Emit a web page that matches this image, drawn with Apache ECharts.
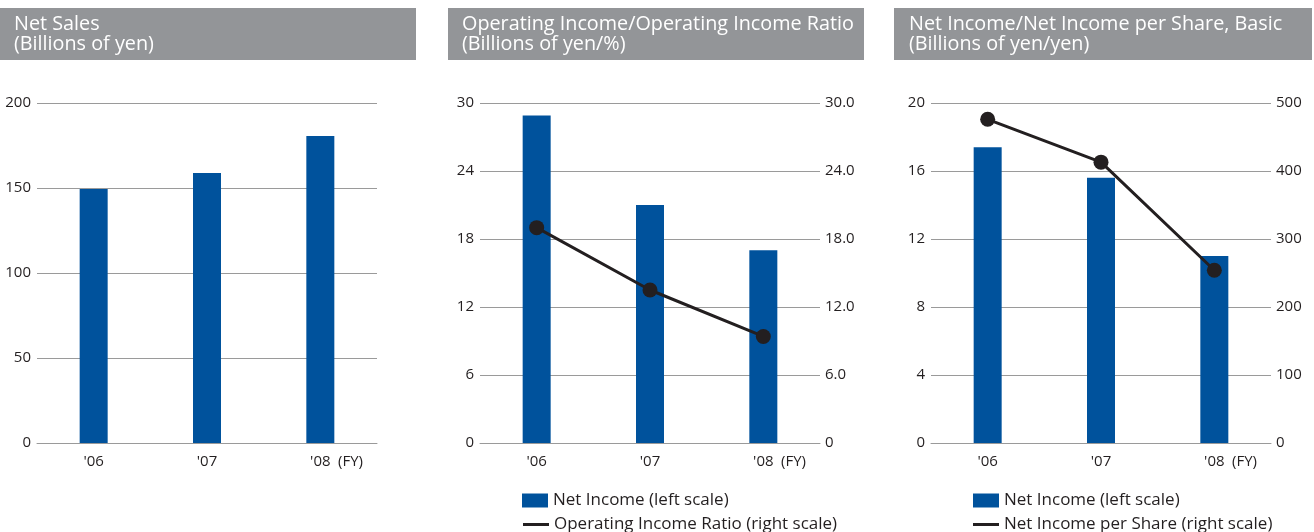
<!DOCTYPE html>
<html>
<head>
<meta charset="utf-8">
<script src="https://cdn.jsdelivr.net/npm/echarts@6/dist/echarts.min.js"></script>
<style>
  html, body { margin: 0; padding: 0; background: #fff; }
  #chart { width: 1314px; height: 532px; }
</style>
</head>
<body>
<div id="chart"></div>
<script>
// Fiscal years shown on every panel
const years = ["'06", "'07", "'08"];

// Net Sales (billions of yen)
const netSales = [149.4, 158.8, 180.6];

// Operating income (billions of yen) and operating income ratio (%)
const operatingIncome = [28.9, 21.0, 17.0];
const operatingIncomeRatio = [19.0, 13.5, 9.4];

// Net income (billions of yen) and net income per share, basic (yen)
const netIncome = [17.4, 15.6, 11.0];
const netIncomePerShare = [476, 413, 254];

// Panel headings
const titles = [
  ['Net Sales', '(Billions of yen)'],
  ['Operating Income/Operating Income Ratio', '(Billions of yen/%)'],
  ['Net Income/Net Income per Share, Basic', '(Billions of yen/yen)']
];

// Legend labels
const barLegendName = 'Net Income (left scale)';
const ratioLegendName = 'Operating Income Ratio (right scale)';
const epsLegendName = 'Net Income per Share (right scale)';

const FONT = "'Open Sans', 'Noto Sans', sans-serif";
const BAR = '#00529c';
const INK = '#231f20';
const GRID = '#9a9a9a';

const gridTop = 103, gridH = 340, gridW = 340;
const gridLefts = [37, 480, 931];
const bandX = [[0, 416], [448, 864], [894, 1312]];
const titleX = [14, 462, 909];

const chart = echarts.init(document.getElementById('chart'), null, { renderer: 'canvas' });

function xAxisFor(i) {
  return {
    type: 'category',
    gridIndex: i,
    data: years,
    axisLine: { show: true, lineStyle: { color: GRID, width: 1 } },
    axisTick: { show: false },
    axisLabel: { color: INK, fontFamily: FONT, fontSize: 15, margin: 11 },
    name: '(FY)',
    nameLocation: 'end',
    nameGap: -39,
    nameTextStyle: { color: INK, fontFamily: FONT, fontSize: 15, verticalAlign: 'top', padding: [11, 0, 0, 0] }
  };
}

function yAxisFor(grid, pos, max, interval, fmt, split) {
  return {
    type: 'value',
    gridIndex: grid,
    position: pos,
    min: 0,
    max: max,
    interval: interval,
    axisLine: { show: false },
    axisTick: { show: false },
    splitLine: { show: split, lineStyle: { color: GRID, width: 1 } },
    axisLabel: {
      color: INK, fontFamily: FONT, fontSize: 15,
      margin: pos === 'left' ? 6 : 5,
      formatter: fmt || (v => String(v))
    }
  };
}

const headerGraphics = titles.map((t, i) => ({
  type: 'group',
  children: [
    { type: 'rect', shape: { x: bandX[i][0], y: 8, width: bandX[i][1] - bandX[i][0], height: 52 },
      style: { fill: '#939598' } },
    { type: 'text', x: titleX[i], y: 14,
      style: { text: t.join('\n'), fill: '#ffffff', font: '19.8px ' + FONT, lineHeight: 20 } }
  ]
}));

const legendText = { color: INK, fontFamily: FONT, fontSize: 17 };

const option = {
  backgroundColor: '#ffffff',
  animation: false,
  graphic: headerGraphics,
  grid: gridLefts.map(l => ({ left: l, top: gridTop, width: gridW, height: gridH, containLabel: false })),
  xAxis: [xAxisFor(0), xAxisFor(1), xAxisFor(2)],
  yAxis: [
    yAxisFor(0, 'left', 200, 50, null, true),
    yAxisFor(1, 'left', 30, 6, null, true),
    yAxisFor(1, 'right', 30, 6, v => (v === 0 ? '0' : v.toFixed(1)), false),
    yAxisFor(2, 'left', 20, 4, null, true),
    yAxisFor(2, 'right', 500, 100, null, false)
  ],
  legend: [
    { left: 522, top: 492, padding: 0, itemWidth: 26, itemHeight: 14, icon: 'rect',
      data: [barLegendName], textStyle: legendText },
    { left: 523, top: 516, padding: 0, itemWidth: 26, itemHeight: 3, icon: 'rect',
      data: [ratioLegendName], textStyle: legendText },
    { left: 973, top: 492, padding: 0, itemWidth: 26, itemHeight: 14, icon: 'rect',
      data: [barLegendName], textStyle: legendText },
    { left: 973, top: 516, padding: 0, itemWidth: 26, itemHeight: 3, icon: 'rect',
      data: [epsLegendName], textStyle: legendText }
  ],
  series: [
    { type: 'bar', name: 'Net Sales', xAxisIndex: 0, yAxisIndex: 0, data: netSales,
      barWidth: 28, itemStyle: { color: BAR } },
    { type: 'bar', name: barLegendName, xAxisIndex: 1, yAxisIndex: 1, data: operatingIncome,
      barWidth: 28, itemStyle: { color: BAR } },
    { type: 'line', name: ratioLegendName, xAxisIndex: 1, yAxisIndex: 2, data: operatingIncomeRatio,
      symbol: 'circle', symbolSize: 15, lineStyle: { color: INK, width: 3 }, itemStyle: { color: INK } },
    { type: 'bar', name: barLegendName, xAxisIndex: 2, yAxisIndex: 3, data: netIncome,
      barWidth: 28, itemStyle: { color: BAR } },
    { type: 'line', name: epsLegendName, xAxisIndex: 2, yAxisIndex: 4, data: netIncomePerShare,
      symbol: 'circle', symbolSize: 15, lineStyle: { color: INK, width: 3 }, itemStyle: { color: INK } }
  ]
};

chart.setOption(option);
</script>
</body>
</html>
